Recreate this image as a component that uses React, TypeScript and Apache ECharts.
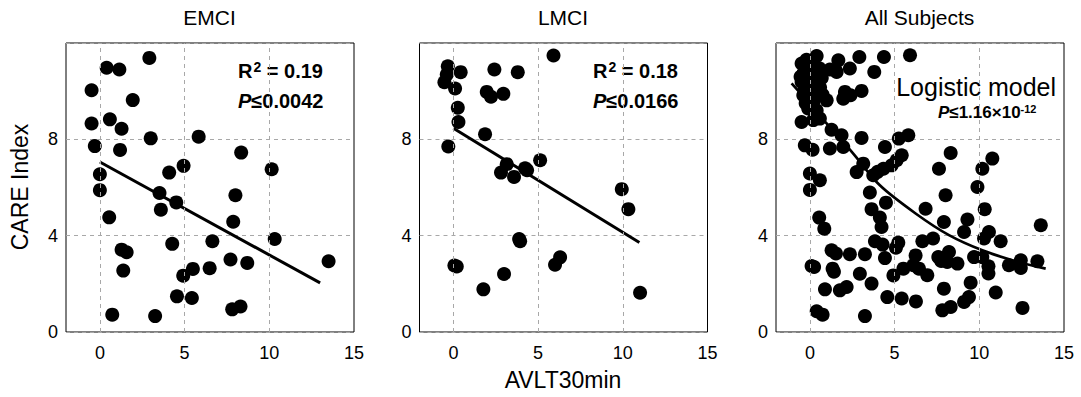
import React, { useEffect, useRef } from "react";
import * as echarts from "echarts";

const FONT = '"Liberation Sans", Arial, Helvetica, sans-serif';

const panelTitles = ["EMCI", "LMCI", "All Subjects"];
const xTickValues = [0, 5, 10, 15];
const yTickValues = [0, 4, 8];
const xGridValues = [0, 5, 10];

// EMCI scatter
const emciX = [2.92, 0.4, 1.15, -0.49, 1.94, -0.49, 0.59, 1.28, 3.0, 5.83, -0.3, 1.19, 8.34, 4.94, 10.14, 4.09, 0.0, 0.0, 3.52, 8.0, 4.51, 3.6, 0.55, 7.87, 10.32, 6.64, 4.27, 1.28, 1.58, 7.71, 8.7, 13.5, 1.38, 5.49, 6.48, 4.92, 4.55, 5.43, 7.81, 8.3, 0.73, 3.26];
const emciY = [11.38, 10.97, 10.9, 10.04, 9.63, 8.66, 8.83, 8.44, 8.04, 8.11, 7.72, 7.56, 7.45, 6.9, 6.76, 6.62, 6.55, 5.89, 5.77, 5.68, 5.38, 5.08, 4.76, 4.58, 3.86, 3.77, 3.66, 3.42, 3.31, 3.01, 2.87, 2.94, 2.55, 2.62, 2.65, 2.34, 1.48, 1.41, 0.94, 1.06, 0.72, 0.66];
const emciFitX = [0, 13.0];
const emciFitY = [7.06, 2.04];

// LMCI scatter
const lmciX = [5.91, -0.33, 0.43, -0.39, 2.42, 3.8, -0.53, 0.1, 1.97, 2.22, 2.95, 0.26, 0.3, 1.87, -0.3, 5.12, 3.15, 4.23, 4.35, 2.81, 3.58, 9.94, 10.33, 3.94, 3.88, 6.3, 6.0, 0.2, 0.06, 2.99, 1.77, 11.02];
const lmciY = [11.48, 11.03, 10.79, 10.69, 10.9, 10.79, 10.37, 10.11, 9.97, 9.77, 9.89, 9.31, 8.72, 8.21, 7.7, 7.13, 6.97, 6.8, 6.72, 6.62, 6.44, 5.93, 5.1, 3.77, 3.86, 3.1, 2.79, 2.72, 2.76, 2.41, 1.77, 1.63];
const lmciFitX = [0, 10.98];
const lmciFitY = [8.46, 3.72];

// All subjects scatter
const allX = [
  0.4, -0.49, 0.0, -0.39, 0.3, -0.49, 0.4, 0.0, -0.39, 0.2, 0.99, -0.1, 0.4, -0.49, 0.59,
  -0.2, 0.15, -0.15, 0.2, -0.3, 0.3, -0.25, 0.55, -0.55, 0.05, 0.2, 0.7, 0.6, 0.75,
  1.68, 1.18, 1.58, 2.36, 2.92, 3.8, 4.37, 5.91,
  2.07, 1.97, 2.4, 3.05,
  1.28, 1.87, 3.05, -0.3, 0.16, 1.18, 1.97, 4.43, 5.25, 5.81, 5.42, 5.12, 4.83, 4.34, 4.0, 3.15, 2.76, 3.74, 0.0, 0.59, 0.0,
  3.54, 4.49, 3.64, 4.13, 4.23, 0.55, 0.85, 3.84, 4.29, 5.22, 5.08, 1.28, 1.54, 2.36, 3.25, 4.43,
  0.1, 0.25, 1.34, 1.42, 2.95, 3.64, 4.93, 5.52, 6.11, 0.89, 1.77, 2.17, 4.57, 5.42, 6.26, 0.4, 0.75, 3.25,
  8.31, 7.62, 10.77, 10.18, 9.89, 6.83, 8.01, 10.32, 7.91, 9.3, 9.1, 10.57, 10.28, 11.26, 13.63,
  6.64, 7.27, 6.24, 7.58, 7.75, 8.21, 8.11, 8.71, 9.69, 10.18, 10.54, 10.54, 11.75, 12.45, 12.45, 13.43,
  6.93, 6.44, 7.91, 9.49, 9.39, 9.1, 10.97, 7.82, 8.31, 12.55,
];
const allY = [
  11.46, 11.15, 11.0, 10.73, 10.8, 10.38, 10.24, 10.04, 9.83, 9.55, 9.62, 9.28, 9.2, 8.72, 8.86,
  11.3, 11.2, 10.5, 10.5, 10.1, 9.9, 9.5, 10.95, 10.6, 10.75, 8.8, 10.55, 10.15, 9.85,
  11.28, 10.9, 10.8, 10.94, 11.42, 10.8, 11.42, 11.49,
  9.97, 9.69, 9.83, 10.01,
  8.4, 8.17, 8.06, 7.75, 7.57, 7.62, 7.68, 7.68, 8.03, 8.17, 7.34, 7.13, 6.92, 6.78, 6.65, 6.99, 6.64, 6.51, 6.58, 6.3, 5.9,
  5.79, 5.37, 5.1, 4.75, 4.36, 4.75, 4.29, 3.77, 3.63, 3.71, 3.5, 3.39, 3.26, 3.23, 3.23, 3.07,
  2.74, 2.7, 2.63, 2.5, 2.42, 2.01, 2.35, 2.63, 2.77, 1.77, 1.73, 1.87, 1.45, 1.39, 1.27, 0.86, 0.72, 0.66,
  7.43, 6.78, 7.2, 6.78, 6.02, 5.12, 5.68, 5.1, 4.57, 4.67, 4.15, 4.15, 3.88, 3.77, 4.43,
  3.77, 3.88, 3.18, 3.11, 2.95, 3.32, 2.91, 2.84, 3.11, 3.11, 2.73, 2.43, 2.77, 2.98, 2.66, 2.94,
  2.36, 2.63, 1.8, 2.05, 1.45, 1.25, 1.64, 0.9, 1.04, 1.0,
];
// Logistic model curve
const logisticX = [-1.08, 0, 1.0, 2.56, 4.13, 6.24, 8.21, 10.18, 12.15, 13.92];
const logisticY = [10.32, 9.47, 8.65, 7.41, 6.09, 4.92, 4.02, 3.39, 2.94, 2.63];

const zip = (xs: number[], ys: number[]) => xs.map((x, i) => [x, ys[i]]);

const GRID_LEFTS = [66, 419.5, 776];
const GRID_TOP = 43;
const GRID_W = 288;
const GRID_H = 289;

export default function App() {
  const ref = useRef<HTMLDivElement>(null);

  useEffect(() => {
    document.body.style.margin = "0";
    const chart = echarts.init(ref.current!, undefined, { renderer: "svg" });

    const gridLineStyle = { type: [4, 4] as any, color: "#a8a8a8", width: 1 };

    const grids = GRID_LEFTS.map((l) => ({
      left: l,
      top: GRID_TOP,
      width: GRID_W,
      height: GRID_H,
      show: true,
      borderColor: "#000",
      borderWidth: 1,
      backgroundColor: "transparent",
    }));

    const xAxes = [0, 1, 2].map((i) => ({
      gridIndex: i,
      type: "value",
      min: -2,
      max: 15,
      interval: 1,
      axisLine: { show: false },
      axisTick: { show: false },
      splitLine: { show: false },
      axisLabel: {
        formatter: (v: number) => (xTickValues.includes(v) ? String(v) : ""),
        fontSize: 18,
        color: "#000",
        fontFamily: FONT,
        margin: 12,
      },
    }));

    const yAxes = [0, 1, 2].map((i) => ({
      gridIndex: i,
      type: "value",
      min: 0,
      max: 12,
      interval: 4,
      axisLine: { show: false },
      axisTick: { show: false },
      splitLine: { show: true, lineStyle: gridLineStyle },
      axisLabel: {
        formatter: (v: number) => (yTickValues.includes(v) ? String(v) : ""),
        fontSize: 18,
        color: "#000",
        fontFamily: FONT,
        margin: 8,
      },
    }));

    const markLine = {
      silent: true,
      symbol: ["none", "none"],
      label: { show: false },
      lineStyle: gridLineStyle,
      data: xGridValues.map((v) => ({ xAxis: v })),
    };

    const scatterData = [zip(emciX, emciY), zip(lmciX, lmciY), zip(allX, allY)];
    const fitData = [zip(emciFitX, emciFitY), zip(lmciFitX, lmciFitY), zip(logisticX, logisticY)];

    const series: any[] = [];
    for (let i = 0; i < 3; i++) {
      series.push({
        type: "scatter",
        xAxisIndex: i,
        yAxisIndex: i,
        data: scatterData[i],
        symbol: "circle",
        symbolSize: 14,
        itemStyle: { color: "#000", opacity: 1 },
        markLine,
        z: 2,
      });
      series.push({
        type: "line",
        xAxisIndex: i,
        yAxisIndex: i,
        data: fitData[i],
        showSymbol: false,
        smooth: i === 2 ? 0.3 : false,
        lineStyle: { color: "#000", width: i === 2 ? 2.7 : 3 },
        z: 3,
      });
    }

    const boldRich = (size: number) => ({
      fontSize: size,
      fontWeight: "bold",
      fontFamily: FONT,
      color: "#000",
    });

    const textEl = (text: string, x: number, y: number, size: number, extra: any = {}) => ({
      type: "text",
      x,
      y,
      style: {
        text,
        fontSize: size,
        fontFamily: FONT,
        fill: "#000",
        align: "center",
        verticalAlign: "middle",
        textAlign: "center",
        textVerticalAlign: "middle",
        ...extra,
      },
    });

    const statText = (r2: string, p: string, x: number) => [
      {
        type: "text",
        x,
        y: 71,
        style: {
          text: `{a|R}{s|2}{a| = ${r2}}`,
          align: "left",
          verticalAlign: "middle",
          rich: {
            a: boldRich(20),
            s: { ...boldRich(14), verticalAlign: "top", padding: [0, 0, 9, 1] },
          },
        },
      },
      {
        type: "text",
        x,
        y: 101,
        style: {
          text: `{i|P}{a|≤${p}}`,
          align: "left",
          verticalAlign: "middle",
          rich: {
            i: { ...boldRich(20), fontStyle: "italic" },
            a: boldRich(20),
          },
        },
      },
    ];

    const graphic: any[] = [
      ...panelTitles.map((t, i) => textEl(t, GRID_LEFTS[i] + GRID_W / 2 - 0.5, 17, 21)),
      textEl("AVLT30min", 563, 380, 23),
      { ...textEl("CARE Index", 20, 187, 23), rotation: Math.PI / 2 },
      ...statText("0.19", "0.0042", 238),
      ...statText("0.18", "0.0166", 593),
      {
        type: "text",
        x: 1056,
        y: 87,
        style: {
          text: "Logistic model",
          fontSize: 25,
          fontFamily: FONT,
          fill: "#000",
          align: "right",
          verticalAlign: "middle",
          textAlign: "right",
          textVerticalAlign: "middle",
        },
      },
      {
        type: "text",
        x: 938,
        y: 112,
        style: {
          text: "{i|P}{a|≤1.16×10}{s|-12}",
          align: "left",
          verticalAlign: "middle",
          rich: {
            i: { ...boldRich(17), fontStyle: "italic" },
            a: boldRich(17),
            s: { ...boldRich(11), verticalAlign: "top", padding: [0, 0, 7, 0] },
          },
        },
      },
    ];

    chart.setOption({
      animation: false,
      backgroundColor: "#fff",
      textStyle: { fontFamily: FONT },
      grid: grids,
      xAxis: xAxes,
      yAxis: yAxes,
      series,
      graphic,
    });

    return () => chart.dispose();
  }, []);

  return <div ref={ref} style={{ width: 1081, height: 397 }} />;
}
